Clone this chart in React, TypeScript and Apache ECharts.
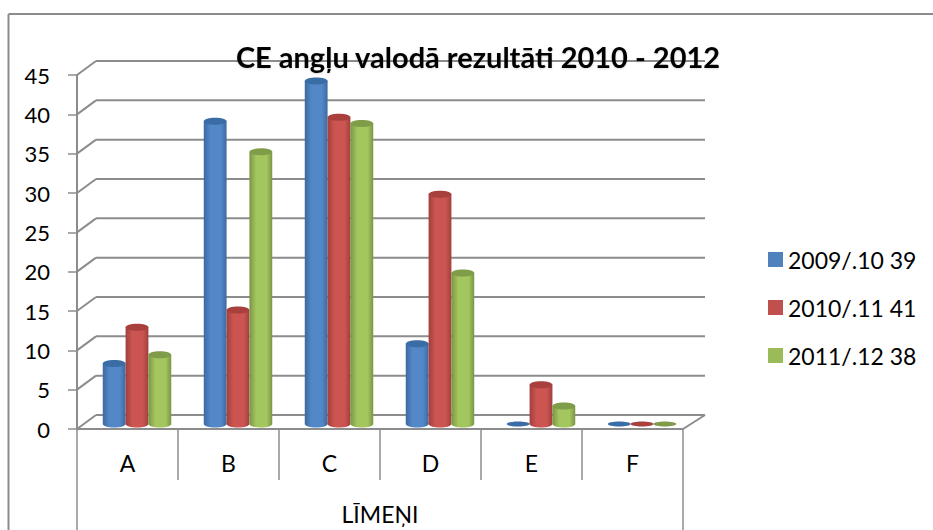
import React, { useEffect, useRef } from "react";
import * as echarts from "echarts";

const categories = ["A", "B", "C", "D", "E", "F"];
const yTicks = [0, 5, 10, 15, 20, 25, 30, 35, 40, 45];
const seriesNames = ["2009/.10 39", "2010/.11 41", "2011/.12 38"];
const values2009 = [7.7, 38.5, 43.6, 10.2, 0, 0];
const values2010 = [12.3, 14.5, 39, 29.2, 5, 0];
const values2011 = [8.8, 34.6, 38.2, 19.2, 2.3, 0];
const seriesValues = [values2009, values2010, values2011];

const legendColors = ["#4f81bd", "#c0504d", "#9bbb59"];
const topColors = ["#3a6ca6", "#a8403d", "#7f9c48"];
const edgeColors = ["#3d6a9f", "#a03f3c", "#7a9546"];
const midColors = ["#5388c8", "#cc5552", "#a4c65e"];

const DEPTH_X = 19;
const DEPTH_Y = -14;
const FONT = "Lato, 'Open Sans', sans-serif";
const LINE = "#8c8c8c";

function cylinder(i: number) {
  return (params: any, api: any) => {
    const cat = api.value(0);
    const val = api.value(1);
    const base = api.coord([cat, 0]);
    const top = api.coord([cat, val]);
    const band = api.size([1, 0])[0];
    const w = band * 0.226;
    const cx = base[0] + 9.5 + (i - 1) * w;
    const by = base[1] - 5;
    const ty = top[1] - 5;
    const rx = w / 2;
    const ry = val === 0 ? 2.5 : 3.5;
    const grad = new echarts.graphic.LinearGradient(0, 0, 1, 0, [
      { offset: 0, color: edgeColors[i] },
      { offset: 0.3, color: midColors[i] },
      { offset: 0.75, color: midColors[i] },
      { offset: 1, color: edgeColors[i] },
    ]);
    const children: any[] = [];
    if (val > 0) {
      children.push({
        type: "ellipse",
        shape: { cx, cy: by, rx, ry },
        style: { fill: grad },
      });
      children.push({
        type: "rect",
        shape: { x: cx - rx, y: ty, width: w, height: by - ty },
        style: { fill: grad },
      });
    }
    children.push({
      type: "ellipse",
      shape: { cx, cy: ty, rx, ry },
      style: { fill: topColors[i] },
    });
    return { type: "group", children };
  };
}

export default function App() {
  const ref = useRef<HTMLDivElement>(null);
  useEffect(() => {
    const chart = echarts.init(ref.current!, null, { renderer: "svg" });
    chart.setOption({
      animation: false,
      backgroundColor: "#ffffff",
      title: {
        text: "CE angļu valodā rezultāti 2010 - 2012",
        left: 473,
        top: 37,
        textAlign: "center",
        textStyle: {
          fontFamily: FONT,
          fontSize: 29,
          fontWeight: "bold",
          color: "#000",
          textShadowBlur: 2,
          textShadowColor: "rgba(0,0,0,0.15)",
          textShadowOffsetY: 1,
        },
        z: 20,
      },
      legend: {
        orient: "vertical",
        left: 768,
        top: 248,
        padding: 0,
        itemWidth: 15,
        itemHeight: 15,
        itemGap: 25,
        icon: "rect",
        data: seriesNames,
        selectedMode: false,
        textStyle: { fontFamily: FONT, fontSize: 23, color: "#000" },
      },
      grid: [{ left: 77, top: 75, width: 606, height: 354, outerBoundsMode: "none" }],
      xAxis: [
        {
          type: "category",
          gridIndex: 0,
          data: categories,
          name: "LĪMEŅI",
          nameLocation: "middle",
          nameGap: 73,
          nameTextStyle: { fontFamily: FONT, fontSize: 23, color: "#000" },
          axisLine: { show: true, lineStyle: { color: LINE, width: 2 } },
          axisTick: { show: false },
          axisLabel: { fontFamily: FONT, fontSize: 23, color: "#000", margin: 22 },
        },
      ],
      yAxis: [
        {
          type: "value",
          gridIndex: 0,
          min: 0,
          max: 45,
          interval: 5,
          axisLine: { show: true, lineStyle: { color: LINE, width: 2 } },
          axisTick: { show: true, length: 9, lineStyle: { color: LINE, width: 1.5 } },
          axisLabel: {
            fontFamily: FONT,
            fontSize: 22,
            color: "#000",
            margin: 27,
            formatter: (v: number) => (yTicks.includes(v) ? String(v) : ""),
          },
          splitLine: { show: false },
        },
      ],
      series: [
        {
          type: "custom",
          name: "separators",
          xAxisIndex: 0,
          yAxisIndex: 0,
          silent: true,
          clip: false,
          z: 1,
          data: categories.slice(1).map((_, c) => [c + 1, 0]),
          renderItem: (params: any, api: any) => {
            const p = api.coord([api.value(0), 0]);
            const band = api.size([1, 0])[0];
            const x = p[0] - band / 2;
            return {
              type: "line",
              shape: { x1: x, y1: p[1], x2: x, y2: p[1] + 51 },
              style: { stroke: LINE, lineWidth: 1.5 },
            };
          },
        },
        {
          type: "custom",
          name: "depth",
          xAxisIndex: 0,
          yAxisIndex: 0,
          silent: true,
          clip: false,
          z: 1,
          data: yTicks.map((v) => [0, v]),
          renderItem: (params: any, api: any) => {
            const p = api.coord([0, api.value(1)]);
            const left = params.coordSys.x;
            const right = params.coordSys.x + params.coordSys.width;
            const children: any[] = [
              {
                type: "line",
                shape: { x1: left, y1: p[1], x2: left + DEPTH_X, y2: p[1] + DEPTH_Y },
                style: { stroke: LINE, lineWidth: 2 },
              },
              {
                type: "line",
                shape: { x1: left + DEPTH_X, y1: p[1] + DEPTH_Y, x2: right + DEPTH_X + 3, y2: p[1] + DEPTH_Y },
                style: { stroke: LINE, lineWidth: 2 },
              },
            ];
            if (api.value(1) === 0) {
              children.push({
                type: "line",
                shape: { x1: right, y1: p[1], x2: right + DEPTH_X + 3, y2: p[1] + DEPTH_Y },
                style: { stroke: LINE, lineWidth: 2 },
              });
            }
            return { type: "group", children };
          },
        },
        ...seriesNames.map((name, i) => ({
          type: "custom",
          name,
          xAxisIndex: 0,
          yAxisIndex: 0,
          clip: false,
          z: 5 + i,
          itemStyle: { color: legendColors[i] },
          encode: { x: 0, y: 1 },
          data: seriesValues[i].map((v, c) => [c, v]),
          renderItem: cylinder(i),
        })),
      ],
      graphic: [
        { type: "line", shape: { x1: 8.5, y1: 14, x2: 933, y2: 14 }, style: { stroke: LINE, lineWidth: 2 } },
        { type: "line", shape: { x1: 8.5, y1: 14, x2: 8.5, y2: 530 }, style: { stroke: LINE, lineWidth: 2 } },
        { type: "line", shape: { x1: 77, y1: 429, x2: 77, y2: 530 }, style: { stroke: LINE, lineWidth: 1.5 } },
        { type: "line", shape: { x1: 683, y1: 429, x2: 683, y2: 530 }, style: { stroke: LINE, lineWidth: 1.5 } },
      ],
    });
    return () => chart.dispose();
  }, []);
  return (
    <div
      ref={ref}
      style={{ position: "absolute", left: 0, top: 0, width: 933, height: 530 }}
    />
  );
}
